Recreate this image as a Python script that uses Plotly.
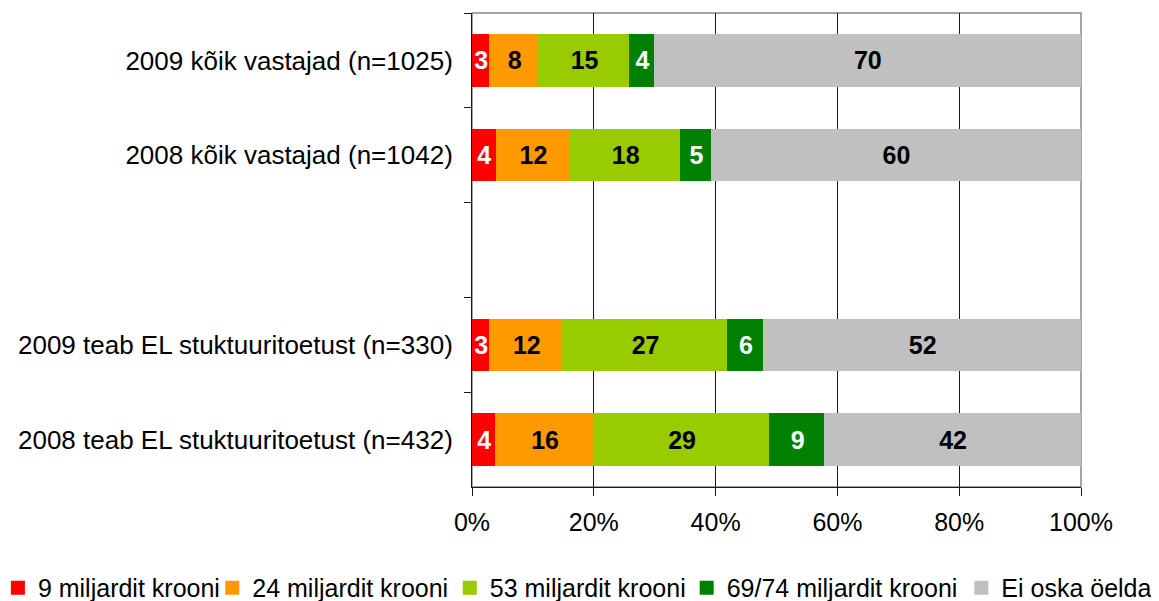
import plotly.graph_objects as go

categories = [
    "2009 kõik vastajad (n=1025)",
    "2008 kõik vastajad (n=1042)",
    " ",
    "2009 teab EL stuktuuritoetust (n=330)",
    "2008 teab EL stuktuuritoetust (n=432)",
]
series_names = ["9 miljardit krooni", "24 miljardit krooni", "53 miljardit krooni",
                "69/74 miljardit krooni", "Ei oska öelda"]
s9 = [3, 4, None, 3, 4]
s24 = [8, 12, None, 12, 16]
s53 = [15, 18, None, 27, 29]
s69 = [4, 5, None, 6, 9]
s_ei = [70, 60, None, 52, 42]
tick_vals = [0, 20, 40, 60, 80, 100]
tick_text = ["0%", "20%", "40%", "60%", "80%", "100%"]

colors = ["#FF0000", "#FF9900", "#99CC00", "#008000", "#C0C0C0"]
text_colors = ["white", "black", "black", "white", "black"]
values = [s9, s24, s53, s69, s_ei]
legend_x = [-0.7785, -0.4265, -0.0365, 0.3525, 0.8035]

FONT = "Liberation Sans, Arial, sans-serif"
fig = go.Figure()
legend_layouts = {}
for i, (name, vals, c, tc) in enumerate(zip(series_names, values, colors, text_colors)):
    lg = "legend" if i == 0 else f"legend{i+1}"
    fig.add_trace(go.Bar(
        y=categories, x=vals, name=name, orientation="h",
        marker=dict(color=c, line=dict(width=2, color=c)),
        text=[("" if v is None else str(v)) for v in vals],
        textposition="inside", insidetextanchor="middle",
        textfont=dict(color=tc, size=25, family=FONT, weight="bold"),
        legend=lg,
    ))
    legend_layouts[lg] = dict(
        orientation="h", x=legend_x[i], xanchor="left", y=-0.213, yanchor="middle",
        font=dict(size=25, family=FONT, color="black"), itemwidth=30,
        bgcolor="rgba(0,0,0,0)", borderwidth=0,
    )

fig.update_layout(
    barmode="stack", barnorm="percent", bargap=0.47,
    width=1151, height=593,
    margin=dict(l=464, r=78, t=5, b=114, autoexpand=False),
    paper_bgcolor="white", plot_bgcolor="white",
    font=dict(family=FONT, size=25, color="black"),
    uniformtext=dict(minsize=25, mode="show"),
    showlegend=True,
    xaxis=dict(range=[0, 100], tickvals=tick_vals, ticktext=tick_text,
               showgrid=True, gridcolor="#1a1a1a", gridwidth=1,
               showline=True, linecolor="#1a1a1a", linewidth=1,
               ticks="outside", ticklen=8, tickcolor="#1a1a1a",
               ticklabelstandoff=5, tickfont=dict(size=25),
               zeroline=False, fixedrange=True),
    yaxis=dict(categoryorder="array", categoryarray=categories, autorange="reversed",
               showline=True, linecolor="#1a1a1a", linewidth=1,
               ticks="outside", ticklen=7, tickcolor="#1a1a1a", tickson="boundaries",
               ticklabelstandoff=13, tickfont=dict(size=26),
               showgrid=False),
    **legend_layouts,
)
# grey frame on top/right of the plot area
fig.add_shape(type="rect", xref="paper", yref="paper", x0=0, x1=1, y0=0, y1=1,
              line=dict(color="#888888", width=1.5), layer="below")
fig.write_html("out.html")
